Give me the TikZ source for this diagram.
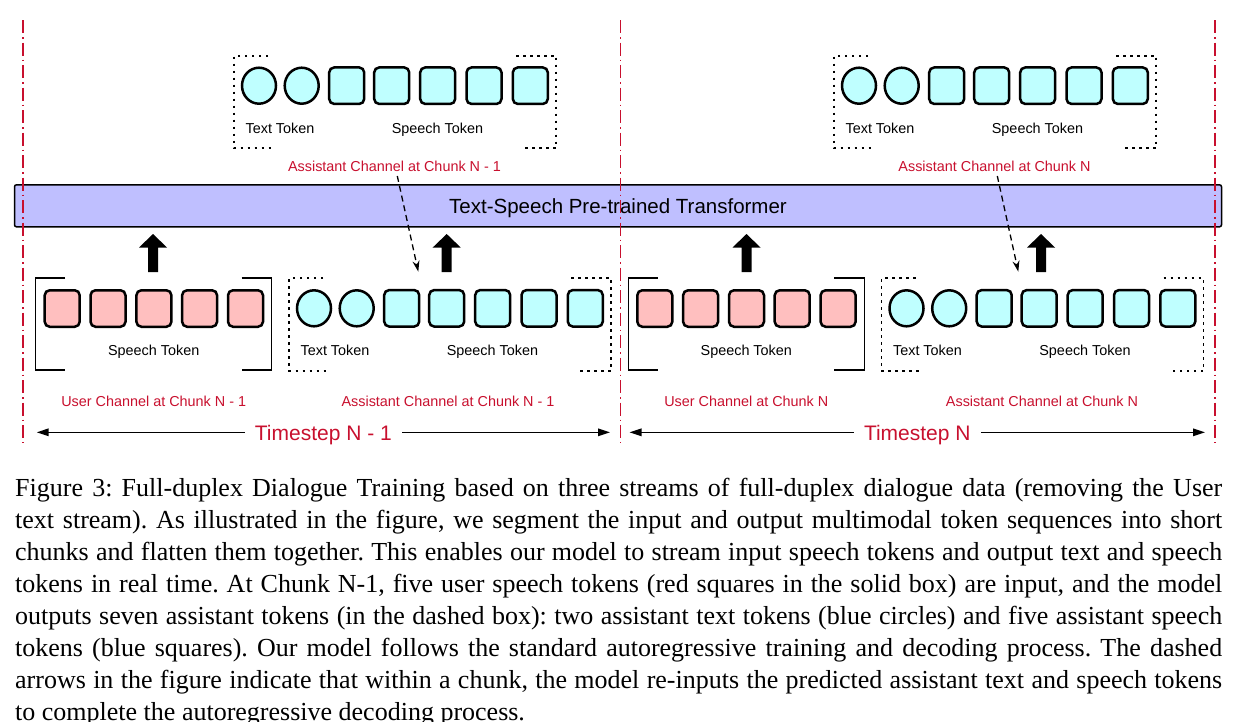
\documentclass[tikz,border=0pt]{standalone}
\usepackage{fontspec}
\setmainfont{Liberation Serif}
\newfontfamily\hv{Liberation Sans}
\usetikzlibrary{shapes.geometric,arrows.meta}
\definecolor{cyanfill}{RGB}{191,255,255}
\definecolor{redfill}{RGB}{255,191,191}
\definecolor{barfill}{RGB}{191,191,255}
\definecolor{redc}{RGB}{200,16,46}
\tikzset{
  tok/.style={draw, line width=2.5pt, inner sep=0pt},
  stok/.style={tok, rectangle, rounded corners=5pt, fill=cyanfill, minimum width=35pt, minimum height=36.5pt},
  rtok/.style={stok, fill=redfill},
  ttok/.style={tok, ellipse, fill=cyanfill, minimum width=34pt, minimum height=36pt},
  lbl/.style={font=\hv\fontsize{14.4}{16}\selectfont, anchor=base, inner sep=0pt},
  rlbl/.style={lbl, text=redc},
  dotbox/.style={line width=1.8pt, dash pattern=on 2.5pt off 4.5pt},
  solidbox/.style={line width=1.5pt},
  redline/.style={draw=redc, line width=1.5pt, dash pattern=on 13pt off 4pt on 1.5pt off 4pt},
  bar/.style={draw, line width=1.5pt, fill=barfill, rounded corners=2pt, minimum width=1207pt, minimum height=42pt, inner sep=0pt},
  bigl/.style={font=\hv\fontsize{20.5}{24}\selectfont, anchor=base, inner sep=0pt},
  tslbl/.style={font=\hv\fontsize{21}{24}\selectfont, text=redc, anchor=base, inner ysep=0pt, inner xsep=10pt},
  tsarrow/.style={line width=1.5pt, -{Triangle[length=12pt,width=7.5pt]}},
  dasharrow/.style={line width=1.3pt, dash pattern=on 6pt off 4pt, -{Stealth[length=11pt,width=7pt]}},
  capline/.style={anchor=base west, inner sep=0pt, font=\fontsize{26}{32}\selectfont\frenchspacing},
}
\newcommand{\asstgroup}[3]{%
  \begin{scope}[shift={(#2,#3)}]
    \node[ttok] (#1c1) at (25,30) {};
    \node[ttok] (#1c2) at (67.7,30) {};
    \node[stok] (#1s1) at (112.7,30) {};
    \node[stok] (#1s2) at (157.7,30) {};
    \node[stok] (#1s3) at (203.7,30) {};
    \node[stok] (#1s4) at (250,30) {};
    \node[stok] (#1s5) at (296.3,30) {};
    \node[lbl] (#1lt) at (46,77.6) {Text Token};
    \node[lbl] (#1ls) at (203.5,77.6) {Speech Token};
    \draw[dotbox] (34,0) -- (0,0) -- (0,92.5) -- (41,92.5);
    \draw[dotbox] (282,0) -- (322,0) -- (322,92.5) -- (287,92.5);
  \end{scope}}
\newcommand{\usergroup}[3]{%
  \begin{scope}[shift={(#2,#3)}]
    \node[rtok] (#1s1) at (26.5,30.5) {};
    \node[rtok] (#1s2) at (72.3,30.5) {};
    \node[rtok] (#1s3) at (118.2,30.5) {};
    \node[rtok] (#1s4) at (163.9,30.5) {};
    \node[rtok] (#1s5) at (209.8,30.5) {};
    \node[lbl] (#1ls) at (118,77.7) {Speech Token};
    \draw[solidbox] (29.3,0) -- (0,0) -- (0,92) -- (29.3,92);
    \draw[solidbox] (206,0) -- (236,0) -- (236,92) -- (206,92);
  \end{scope}}
\newcommand{\blockarrow}[1]{%
  \fill ({#1-5},272) -- ({#1-5},247.5) -- ({#1-14},247.5) -- (#1,234) -- ({#1+14},247.5) -- ({#1+5},247.5) -- ({#1+5},272) -- cycle;}
\begin{document}
\begin{tikzpicture}[x=1pt,y=-1pt]
\useasboundingbox (0,0) rectangle (1238,721);
% transformer bar
\node[bar] (tf) at (618,205.8) {};
\node[bigl] (tft) at (618,213.3) {Text-Speech Pre-trained Transformer};
% top assistant groups
\asstgroup{ta}{234}{55.7}
\asstgroup{tb}{834}{55.7}
\node[rlbl] (tal) at (394.5,171) {Assistant Channel at Chunk N - 1};
\node[rlbl] (tbl) at (994.5,171) {Assistant Channel at Chunk N};
% bottom groups
\usergroup{ua}{35.7}{278}
\asstgroup{ba}{289}{278.3}
\usergroup{ub}{628.3}{278}
\asstgroup{bb}{881.5}{278.3}
\node[rlbl] (ual) at (153.7,406) {User Channel at Chunk N - 1};
\node[rlbl] (bal) at (448,406) {Assistant Channel at Chunk N - 1};
\node[rlbl] (ubl) at (746.3,406) {User Channel at Chunk N};
\node[rlbl] (bbl) at (1042,406) {Assistant Channel at Chunk N};
% block arrows
\blockarrow{153}
\blockarrow{446.7}
\blockarrow{746.5}
\blockarrow{1041}
% dashed feedback arrows
\coordinate (d1s) at (397.3,176);
\coordinate (d1e) at (418.3,271.7);
\coordinate (d2s) at (997.3,176);
\coordinate (d2e) at (1018.3,271.7);
\draw[dasharrow] (d1s) -- (d1e);
\draw[dasharrow] (d2s) -- (d2e);
% timesteps
\coordinate (t1l) at (36.7,432.3);
\coordinate (t1r) at (610,432.3);
\coordinate (t2l) at (629.5,432.3);
\coordinate (t2r) at (1205,432.3);
\node[tslbl] (ts1) at (323.4,440.5) {Timestep N - 1};
\node[tslbl] (ts2) at (917.3,440.5) {Timestep N};
\draw[tsarrow] (ts1.west |- t1l) -- (t1l);
\draw[tsarrow] (ts1.east |- t1r) -- (t1r);
\draw[tsarrow] (ts2.west |- t2l) -- (t2l);
\draw[tsarrow] (ts2.east |- t2r) -- (t2r);
% red separators
\coordinate (r1a) at (23,20); \coordinate (r1b) at (23,443);
\coordinate (r2a) at (620.5,20); \coordinate (r2b) at (620.5,443);
\coordinate (r3a) at (1215,20); \coordinate (r3b) at (1215,443);
\draw[redline] (r1a) -- (r1b);
\draw[redline] (r2a) -- (r2b);
\draw[redline] (r3a) -- (r3b);
% caption
\node[capline] (cap1) at (15,496) {\makebox[1207pt][s]{Figure 3: Full-duplex Dialogue Training based on three streams of full-duplex dialogue data (removing the User}};
\node[capline] (cap2) at (15,528) {\makebox[1207pt][s]{text stream). As illustrated in the figure, we segment the input and output multimodal token sequences into short}};
\node[capline] (cap3) at (15,560) {\makebox[1207pt][s]{chunks and flatten them together. This enables our model to stream input speech tokens and output text and speech}};
\node[capline] (cap4) at (15,592) {\makebox[1207pt][s]{tokens in real time. At Chunk N-1, five user speech tokens (red squares in the solid box) are input, and the model}};
\node[capline] (cap5) at (15,624) {\makebox[1207pt][s]{outputs seven assistant tokens (in the dashed box): two assistant text tokens (blue circles) and five assistant speech}};
\node[capline] (cap6) at (15,656) {\makebox[1207pt][s]{tokens (blue squares). Our model follows the standard autoregressive training and decoding process. The dashed}};
\node[capline] (cap7) at (15,688) {\makebox[1207pt][s]{arrows in the figure indicate that within a chunk, the model re-inputs the predicted assistant text and speech tokens}};
\node[capline] (cap8) at (15,720) {to complete the autoregressive decoding process.};
\end{tikzpicture}
\end{document}
